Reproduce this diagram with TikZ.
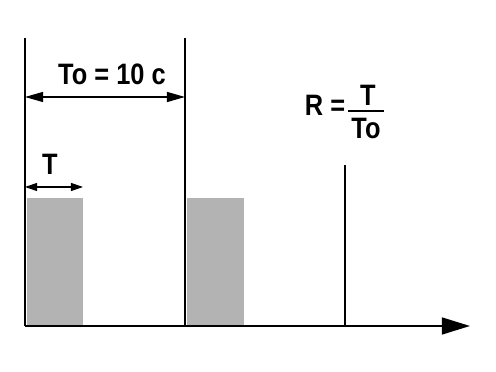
\documentclass[tikz,border=0pt]{standalone}
\usepackage{fontspec}
\setmainfont{Liberation Sans}
\usetikzlibrary{arrows.meta, positioning}
\definecolor{bargray}{RGB}{179,179,179}

\begin{document}
\begin{tikzpicture}[x=0.025cm, y=-0.025cm,
    axis/.style={line width=1.4pt},
    dim/.style={line width=0.8pt, {Triangle[length=0.45cm, width=0.25cm]}-{Triangle[length=0.45cm, width=0.25cm]}},
    smalldim/.style={line width=0.8pt, {Triangle[length=0.3cm, width=0.2cm]}-{Triangle[length=0.3cm, width=0.2cm]}},
    bar/.style={fill=bargray, draw=none},
    lbl/.style={font=\bfseries\fontsize{21}{24}\selectfont, inner sep=0pt, xscale=0.86}]
    \useasboundingbox (0,0) rectangle (496,372);
    % grey bars
    \fill[bar] (27,198) rectangle (83,326);
    \fill[bar] (187,198) rectangle (244,326);
    % time axis
    \coordinate (o) at (25,326);
    \coordinate (xend) at (470,326);
    \draw[axis, -{Triangle[length=0.7cm, width=0.42cm]}] (o) -- (xend);
    % period marks
    \coordinate (p0) at (25,38);
    \coordinate (p1top) at (185,38);
    \coordinate (p1) at (185,326);
    \coordinate (p2top) at (345,165);
    \coordinate (p2) at (345,326);
    \draw[axis] (p0) -- (o);
    \draw[axis] (p1top) -- (p1);
    \draw[axis] (p2top) -- (p2);
    % period To
    \coordinate (a0) at (25,97);
    \coordinate (a1) at (185,97);
    \draw[dim] (a0) -- (a1);
    \node[lbl] (period) at (112,74) {To = 10 c};
    % pulse width T
    \coordinate (b0) at (25,187);
    \coordinate (b1) at (83,187);
    \draw[smalldim] (b0) -- (b1);
    \node[lbl] (width) at (50,164) {T};
    % duty ratio
    \node[lbl] (ratio) at (325,105) {R =};
    \node[lbl] (num) at (368,95) {T};
    \node[lbl] (den) at (366,128) {To};
    \coordinate (f0) at (348,111);
    \coordinate (f1) at (384,111);
    \draw[line width=1.4pt] (f0) -- (f1);
\end{tikzpicture}
\end{document}
